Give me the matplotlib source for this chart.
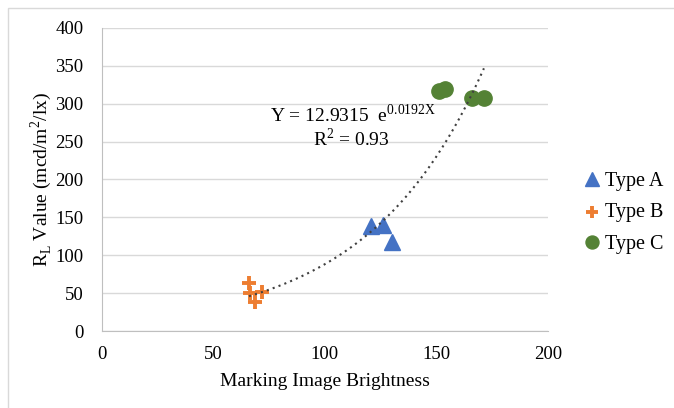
import numpy as np
import matplotlib
matplotlib.use("Agg")
import matplotlib.pyplot as plt
from matplotlib.patches import Rectangle

plt.rcParams["font.family"] = ["Liberation Serif", "DejaVu Serif"]
plt.rcParams["mathtext.fontset"] = "custom"
plt.rcParams["mathtext.rm"] = "Liberation Serif"

# ── Data ──────────────────────────────────────────────────────────────────────
type_a_x = [120.5, 126.0, 130.0]
type_a_y = [138, 140, 118]
type_b_x = [66.0, 66.5, 72.0, 68.7]
type_b_y = [63, 50, 52, 38]
type_c_x = [151.1, 153.8, 166.1, 171.3]
type_c_y = [317, 320, 308, 308]

TREND_A, TREND_B = 12.9315, 0.0192
TREND_X0, TREND_X1 = 66.0, 171.3

X_TICKS = [0, 50, 100, 150, 200]
Y_TICKS = [0, 50, 100, 150, 200, 250, 300, 350, 400]

# ── Plot ──────────────────────────────────────────────────────────────────────
fig = plt.figure(figsize=(6.74, 4.08), dpi=100)
ax = fig.add_axes([0.1509, 0.1887, 0.6621, 0.7427])

# chart-area border (only top/left visible in the original crop)
fig.patches.append(Rectangle((8 / 674, -0.1), 1.2, 1 - 8 / 408 + 0.1,
                             transform=fig.transFigure, fill=False,
                             ec="#d9d9d9", lw=1.0))

ax.plot(type_a_x, type_a_y, ls="none", marker="^", ms=12, color="#4472c4",
        label="Type A", zorder=3)
ax.scatter(type_b_x, type_b_y, marker="+", s=95, lw=2.8, color="#ed7d31",
           label="Type B", zorder=3)
ax.plot(type_c_x, type_c_y, ls="none", marker="o", ms=11, color="#548235",
        label="Type C", zorder=3)

tx = np.linspace(TREND_X0, TREND_X1, 200)
ax.plot(tx, TREND_A * np.exp(TREND_B * tx), ls=(0, (1, 2)), lw=1.5,
        color="#404040", zorder=4)

ax.text(112.5, 285, r"Y = 12.9315  e$^{0.0192\mathrm{X}}$", fontsize=14,
        ha="center", va="center")
ax.text(112, 254, r"R$^2$ = 0.93", fontsize=14, ha="center", va="center")

ax.set_xlim(0, 200)
ax.set_ylim(0, 400)
ax.set_xticks(X_TICKS)
ax.set_yticks(Y_TICKS)
ax.tick_params(length=0, labelsize=13.5)
ax.tick_params(axis="x", pad=11)
ax.tick_params(axis="y", pad=13)
ax.grid(axis="y", color="#d9d9d9", lw=1.0)
ax.set_axisbelow(True)
for side in ["top", "right"]:
    ax.spines[side].set_visible(False)
for side in ["left", "bottom"]:
    ax.spines[side].set_color("#bfbfbf")

ax.set_xlabel("Marking Image Brightness", fontsize=14, labelpad=7)
ax.set_ylabel(r"R$_\mathrm{L}$ Value (mcd/m$^2$/lx)", fontsize=14, labelpad=1)

handles, labels = ax.get_legend_handles_labels()
order = [labels.index(l) for l in ["Type A", "Type B", "Type C"]]
ax.legend([handles[i] for i in order], [labels[i] for i in order],
          loc="center left", bbox_to_anchor=(1.03, 0.39), frameon=False,
          fontsize=14.5, handletextpad=0.05, labelspacing=0.6,
          markerscale=0.85, handlelength=1.2)

plt.savefig("out.png", dpi=100)
plt.close()
